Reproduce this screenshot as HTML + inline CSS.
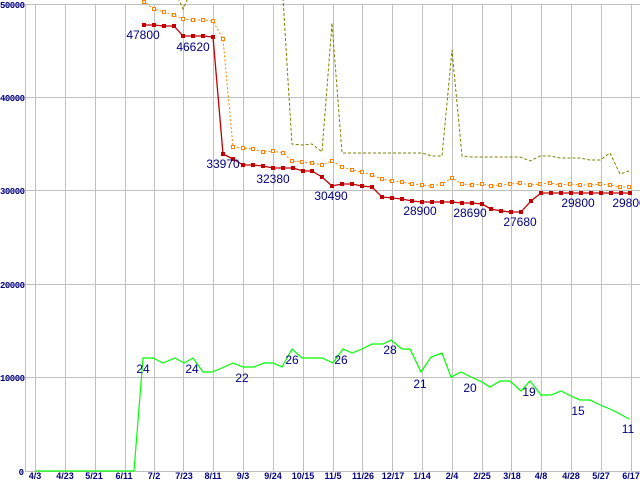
<!DOCTYPE html>
<html><head><meta charset="utf-8"><style>
html,body{margin:0;padding:0;background:#fff}
svg{display:block}
.yl{font:bold 9px "Liberation Mono",monospace;fill:#000080}
.xl{font:bold 9px "Liberation Sans",sans-serif;fill:#000080}
.lb{font:12px "Liberation Sans",sans-serif;fill:#000080}
</style></head><body>
<svg width="640" height="480" viewBox="0 0 640 480" xmlns="http://www.w3.org/2000/svg">
<g stroke="#c0c0c0" stroke-width="1" fill="none" shape-rendering="crispEdges">
<line x1="25" y1="4.5" x2="640" y2="4.5"/>
<line x1="25" y1="97.5" x2="640" y2="97.5"/>
<line x1="25" y1="190.5" x2="640" y2="190.5"/>
<line x1="25" y1="284.5" x2="640" y2="284.5"/>
<line x1="25" y1="377.5" x2="640" y2="377.5"/>
<line x1="25" y1="471.5" x2="640" y2="471.5"/>
<line x1="25.5" y1="4" x2="25.5" y2="472"/>
<line x1="35.5" y1="4" x2="35.5" y2="472"/>
<line x1="65.5" y1="4" x2="65.5" y2="472"/>
<line x1="95.5" y1="4" x2="95.5" y2="472"/>
<line x1="125.5" y1="4" x2="125.5" y2="472"/>
<line x1="154.5" y1="4" x2="154.5" y2="472"/>
<line x1="183.5" y1="4" x2="183.5" y2="472"/>
<line x1="213.5" y1="4" x2="213.5" y2="472"/>
<line x1="243.5" y1="4" x2="243.5" y2="472"/>
<line x1="273.5" y1="4" x2="273.5" y2="472"/>
<line x1="303.5" y1="4" x2="303.5" y2="472"/>
<line x1="333.5" y1="4" x2="333.5" y2="472"/>
<line x1="362.5" y1="4" x2="362.5" y2="472"/>
<line x1="392.5" y1="4" x2="392.5" y2="472"/>
<line x1="422.5" y1="4" x2="422.5" y2="472"/>
<line x1="452.5" y1="4" x2="452.5" y2="472"/>
<line x1="482.5" y1="4" x2="482.5" y2="472"/>
<line x1="511.5" y1="4" x2="511.5" y2="472"/>
<line x1="541.5" y1="4" x2="541.5" y2="472"/>
<line x1="571.5" y1="4" x2="571.5" y2="472"/>
<line x1="601.5" y1="4" x2="601.5" y2="472"/>
<line x1="631.5" y1="4" x2="631.5" y2="472"/>
</g>
<g class="yl" text-anchor="end">
<text x="25" y="8" textLength="25">50000</text>
<text x="25" y="101" textLength="25">40000</text>
<text x="25" y="194" textLength="25">30000</text>
<text x="25" y="288" textLength="25">20000</text>
<text x="25" y="381" textLength="25">10000</text>
<text x="24" y="475">0</text>
</g>
<g class="xl" text-anchor="middle">
<text x="35" y="479">4/3</text><text x="65" y="479">4/23</text><text x="94" y="479">5/21</text><text x="124" y="479">6/11</text><text x="154" y="479">7/2</text><text x="184" y="479">7/23</text><text x="213" y="479">8/11</text><text x="243" y="479">9/3</text><text x="273" y="479">9/24</text><text x="303" y="479">10/15</text><text x="333" y="479">11/5</text><text x="363" y="479">11/26</text><text x="393" y="479">12/17</text><text x="422" y="479">1/14</text><text x="452" y="479">2/4</text><text x="482" y="479">2/25</text><text x="512" y="479">3/18</text><text x="541" y="479">4/8</text><text x="571" y="479">4/28</text><text x="601" y="479">5/27</text><text x="631" y="479">6/17</text>
</g>
<!-- olive -->
<polyline fill="none" stroke="#808000" stroke-width="1" stroke-dasharray="3,2" points="178,-2 183,9 188,-2"/>
<polyline fill="none" stroke="#808000" stroke-width="1" stroke-dasharray="3,2" points="283,-2 289,97 292,144 302,145 312,144 322,152 332,23 342,153 352,153 362,153 372,153 382,153 392,153 402,153 412,153 422,153 432,156 442,156 452,50 462,156 472,157 482,157 491,157 501,157 511,157 520,157 530,161 540,156 550,156 560,158 570,158 580,158 590,160 600,160 610,153 620,174 629,171"/>
<!-- orange -->
<polyline fill="none" stroke="#ff8000" stroke-width="1" stroke-dasharray="2,2" points="141,-3 144,2 154,9 164,12 174,15 183,19 193,20 203,20 213,21 223,39 233,147 243,148 253,149 263,152 273,151 283,153 292,161 302,162 312,163 322,165 332,161 342,167 352,170 362,172 372,175 382,179 392,181 402,182 412,184 422,185 432,186 442,184 452,178 462,184 472,185 482,184 491,186 500,185 510,184 520,183 530,185 540,184 550,183 560,185 570,184 580,185 590,185 600,184 610,185 620,187 629,187"/>
<g fill="#fff" stroke="#ff8000" stroke-width="1">
<rect x="142.5" y="0.5" width="3" height="3"/><rect x="152.5" y="7.5" width="3" height="3"/><rect x="162.5" y="10.5" width="3" height="3"/><rect x="172.5" y="13.5" width="3" height="3"/><rect x="181.5" y="17.5" width="3" height="3"/><rect x="191.5" y="18.5" width="3" height="3"/><rect x="201.5" y="18.5" width="3" height="3"/><rect x="211.5" y="19.5" width="3" height="3"/><rect x="221.5" y="37.5" width="3" height="3"/><rect x="231.5" y="145.5" width="3" height="3"/><rect x="241.5" y="146.5" width="3" height="3"/><rect x="251.5" y="147.5" width="3" height="3"/><rect x="261.5" y="150.5" width="3" height="3"/><rect x="271.5" y="149.5" width="3" height="3"/><rect x="281.5" y="151.5" width="3" height="3"/><rect x="290.5" y="159.5" width="3" height="3"/><rect x="300.5" y="160.5" width="3" height="3"/><rect x="310.5" y="161.5" width="3" height="3"/><rect x="320.5" y="163.5" width="3" height="3"/><rect x="330.5" y="159.5" width="3" height="3"/><rect x="340.5" y="165.5" width="3" height="3"/><rect x="350.5" y="168.5" width="3" height="3"/><rect x="360.5" y="170.5" width="3" height="3"/><rect x="370.5" y="173.5" width="3" height="3"/><rect x="380.5" y="177.5" width="3" height="3"/><rect x="390.5" y="179.5" width="3" height="3"/><rect x="400.5" y="180.5" width="3" height="3"/><rect x="410.5" y="182.5" width="3" height="3"/><rect x="420.5" y="183.5" width="3" height="3"/><rect x="430.5" y="184.5" width="3" height="3"/><rect x="440.5" y="182.5" width="3" height="3"/><rect x="450.5" y="176.5" width="3" height="3"/><rect x="460.5" y="182.5" width="3" height="3"/><rect x="470.5" y="183.5" width="3" height="3"/><rect x="480.5" y="182.5" width="3" height="3"/><rect x="489.5" y="184.5" width="3" height="3"/><rect x="498.5" y="183.5" width="3" height="3"/><rect x="508.5" y="182.5" width="3" height="3"/><rect x="518.5" y="181.5" width="3" height="3"/><rect x="528.5" y="183.5" width="3" height="3"/><rect x="538.5" y="182.5" width="3" height="3"/><rect x="548.5" y="181.5" width="3" height="3"/><rect x="558.5" y="183.5" width="3" height="3"/><rect x="568.5" y="182.5" width="3" height="3"/><rect x="578.5" y="183.5" width="3" height="3"/><rect x="588.5" y="183.5" width="3" height="3"/><rect x="598.5" y="182.5" width="3" height="3"/><rect x="608.5" y="183.5" width="3" height="3"/><rect x="618.5" y="185.5" width="3" height="3"/><rect x="627.5" y="185.5" width="3" height="3"/>
</g>
<!-- red -->
<polyline fill="none" stroke="#c00000" stroke-width="1.3" points="144,25 154,25 164,26 174,26 183,36 193,36 203,36 213,37 223,154 233,159 243,165 253,165 263,166 273,168 283,168 293,168 303,171 312,171 322,177 332,186 342,184 352,184 362,186 372,187 382,197 392,198 402,199 412,201 422,202 432,202 442,202 452,202 462,203 472,203 482,204 491,209 501,211 511,212 521,212 531,201 541,193 551,193 561,193 571,193 581,193 591,193 601,193 611,193 621,193 630,193"/>
<g fill="#c00000">
<rect x="142" y="23" width="4" height="4"/><rect x="152" y="23" width="4" height="4"/><rect x="162" y="24" width="4" height="4"/><rect x="172" y="24" width="4" height="4"/><rect x="181" y="34" width="4" height="4"/><rect x="191" y="34" width="4" height="4"/><rect x="201" y="34" width="4" height="4"/><rect x="211" y="35" width="4" height="4"/><rect x="221" y="152" width="4" height="4"/><rect x="231" y="157" width="4" height="4"/><rect x="241" y="163" width="4" height="4"/><rect x="251" y="163" width="4" height="4"/><rect x="261" y="164" width="4" height="4"/><rect x="271" y="166" width="4" height="4"/><rect x="281" y="166" width="4" height="4"/><rect x="291" y="166" width="4" height="4"/><rect x="301" y="169" width="4" height="4"/><rect x="310" y="169" width="4" height="4"/><rect x="320" y="175" width="4" height="4"/><rect x="330" y="184" width="4" height="4"/><rect x="340" y="182" width="4" height="4"/><rect x="350" y="182" width="4" height="4"/><rect x="360" y="184" width="4" height="4"/><rect x="370" y="185" width="4" height="4"/><rect x="380" y="195" width="4" height="4"/><rect x="390" y="196" width="4" height="4"/><rect x="400" y="197" width="4" height="4"/><rect x="410" y="199" width="4" height="4"/><rect x="420" y="200" width="4" height="4"/><rect x="430" y="200" width="4" height="4"/><rect x="440" y="200" width="4" height="4"/><rect x="450" y="200" width="4" height="4"/><rect x="460" y="201" width="4" height="4"/><rect x="470" y="201" width="4" height="4"/><rect x="480" y="202" width="4" height="4"/><rect x="489" y="207" width="4" height="4"/><rect x="499" y="209" width="4" height="4"/><rect x="509" y="210" width="4" height="4"/><rect x="519" y="210" width="4" height="4"/><rect x="529" y="199" width="4" height="4"/><rect x="539" y="191" width="4" height="4"/><rect x="549" y="191" width="4" height="4"/><rect x="559" y="191" width="4" height="4"/><rect x="569" y="191" width="4" height="4"/><rect x="579" y="191" width="4" height="4"/><rect x="589" y="191" width="4" height="4"/><rect x="599" y="191" width="4" height="4"/><rect x="609" y="191" width="4" height="4"/><rect x="619" y="191" width="4" height="4"/><rect x="628" y="191" width="4" height="4"/>
</g>
<!-- green -->
<polyline fill="none" stroke="#00ff00" stroke-width="1.2" points="35,471 134,471 143,358 153,358 163,363 175,358 184,363 193,358 203,372 212,372 222,368 233,363 243,367 254,367 264,363 273,363 282,367 292,349 302,358 312,358 322,358 333,363 343,349 352,353 362,349 372,344 383,344 391,340 402,349 410,349 421,372 431,357 442,353 451,377 461,372 471,377 482,382 490,387 500,381 510,381 521,391 530,381 541,395 551,395 561,391 571,396 580,400 590,400 600,405 610,409 620,414 629,419"/>
<g class="lb" text-anchor="middle">
<text x="143" y="39">47800</text><text x="193" y="51">46620</text><text x="223" y="168">33970</text><text x="273" y="183">32380</text><text x="331" y="200">30490</text><text x="420" y="215">28900</text><text x="470" y="217">28690</text><text x="520" y="226">27680</text><text x="578" y="207">29800</text><text x="629" y="207">29800</text>
<text x="143" y="373">24</text><text x="192" y="373">24</text><text x="242" y="382">22</text><text x="292" y="364">26</text><text x="341" y="364">26</text><text x="390" y="354">28</text><text x="420" y="388">21</text><text x="470" y="392">20</text><text x="529" y="396">19</text><text x="578" y="415">15</text><text x="628" y="433">11</text>
</g>
</svg>
</body></html>
